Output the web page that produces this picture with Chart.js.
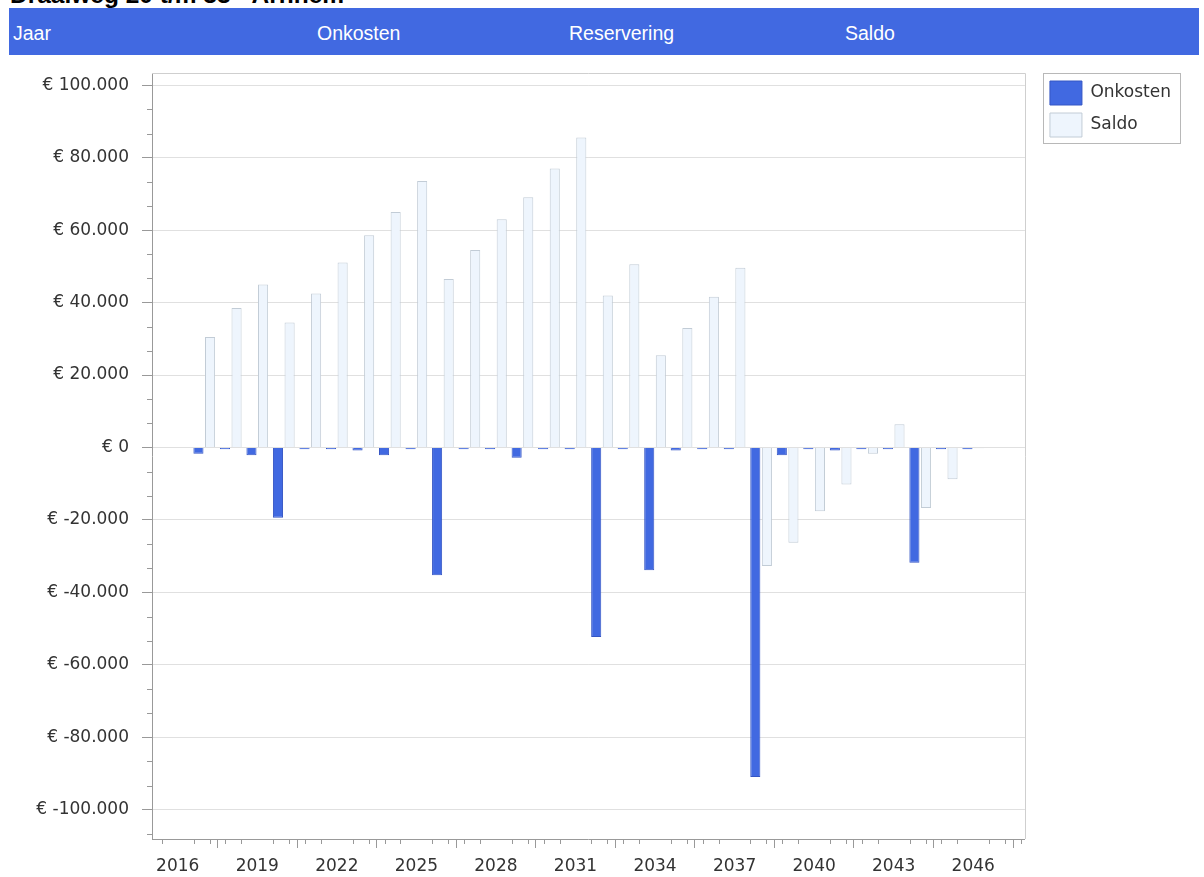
<!DOCTYPE html>
<html>
<head>
<meta charset="utf-8">
<script src="https://cdn.jsdelivr.net/npm/chart.js@4"></script>
<style>
html,body{margin:0;padding:0;background:#fff;width:1204px;height:877px;overflow:hidden;position:relative;font-family:"Liberation Sans",Arial,sans-serif;}
#title{position:absolute;left:10px;top:-17px;font-weight:bold;font-size:24.5px;line-height:24px;color:#000;white-space:nowrap;}
#hdr{position:absolute;left:9px;top:8px;width:1190px;height:47px;background:#4169E1;}
#hdr span{position:absolute;top:2px;line-height:47px;color:#fff;font-size:19.5px;white-space:nowrap;}
#wrap{position:absolute;left:0;top:56px;width:1204px;height:821px;}
</style>
</head>
<body>
<div id="title">Draaiweg 20 t/m 33 - Arnhem</div>
<div id="hdr">
  <span style="left:4px">Jaar</span>
  <span style="left:308px">Onkosten</span>
  <span style="left:560px">Reservering</span>
  <span style="left:836px">Saldo</span>
</div>
<div id="wrap"><canvas id="c" width="1204" height="821"></canvas></div>
<script>
const years = [2017,2018,2019,2020,2021,2022,2023,2024,2025,2026,2027,2028,2029,2030,2031,2032,2033,2034,2035,2036,2037,2038,2039,2040,2041,2042,2043,2044,2045,2046];
const onkosten = [-1700,-500,-2150,-19400,-500,-500,-800,-2150,-500,-35300,-500,-500,-2800,-500,-500,-52300,-500,-33900,-800,-500,-500,-91000,-2150,-500,-800,-500,-500,-31800,-500,-500];
const saldo = [30500,38500,45000,34500,42500,51100,58600,65000,73600,46500,54500,63000,69100,77000,85600,42000,50600,25500,33000,41600,49600,-32700,-26300,-17600,-10200,-1700,6400,-16700,-8800,-200];
const xTickLabels = [2016,2019,2022,2025,2028,2031,2034,2037,2040,2043,2046];
const yTickValues = [-100000,-80000,-60000,-40000,-20000,0,20000,40000,60000,80000,100000];
const seriesNames = ['Onkosten','Saldo'];

const fmtEuro = v => '€ ' + (v < 0 ? '-' : '') + String(Math.abs(Math.round(v))).replace(/\B(?=(\d{3})+(?!\d))/g, '.');
const tickFont = {family:'"DejaVu Sans", Verdana, sans-serif', size:17};
const noPad = s => { s.paddingTop = 0; s.paddingBottom = 0; s.paddingLeft = 0; s.paddingRight = 0; };

const decor = {
  id:'decor',
  beforeDatasetsDraw(chart){
    const {ctx, chartArea:a} = chart;
    ctx.save();
    ctx.strokeStyle = '#cfcfcf';
    ctx.lineWidth = 1;
    ctx.beginPath();
    ctx.moveTo(a.left, Math.round(a.top) + 0.5);
    ctx.lineTo(Math.round(a.right) + 0.5, Math.round(a.top) + 0.5);
    ctx.lineTo(Math.round(a.right) + 0.5, a.bottom);
    ctx.stroke();
    ctx.restore();
  },
  afterDraw(chart){
    const {ctx, chartArea:a, scales:{x, y}} = chart;
    ctx.save();
    ctx.strokeStyle = '#999';
    ctx.lineWidth = 1;
    ctx.beginPath();
    for (let k = 0; ; k++) {
      const v = 2015.4 + 0.6 * k;
      if (v > x.max) break;
      const r = (v - 2016) / 3;
      if (Math.abs(r - Math.round(r)) < 1e-6) continue;
      const px = Math.round(x.getPixelForValue(v)) + 0.5;
      ctx.moveTo(px, a.bottom);
      ctx.lineTo(px, a.bottom + 5);
    }
    for (let k = 0; ; k++) {
      const v = -320000 / 3 + (20000 / 3) * k;
      if (v > y.max) break;
      const r = v / 20000;
      if (Math.abs(r - Math.round(r)) < 1e-6) continue;
      const py = Math.round(y.getPixelForValue(v)) + 0.5;
      ctx.moveTo(a.left - 5, py);
      ctx.lineTo(a.left, py);
    }
    ctx.stroke();
    const L = chart.legend;
    ctx.strokeStyle = '#b8b8b8';
    const x0 = Math.round(L.left) + 1.5, x1 = Math.round(L.right) - 0.5;
    const y0 = Math.round(L.top) + 0.5;
    ctx.strokeRect(x0, y0, x1 - x0, 70);
    ctx.restore();
  }
};

new Chart(document.getElementById('c'), {
  type: 'bar',
  data: {
    datasets: [
      {label: seriesNames[0], data: years.map((yr, i) => ({x: yr, y: onkosten[i]})),
       backgroundColor: '#4169E1', borderColor: '#3556c4', borderWidth: 1,
       categoryPercentage: 0.875, barPercentage: 0.87},
      {label: seriesNames[1], data: years.map((yr, i) => ({x: yr, y: saldo[i]})),
       backgroundColor: '#eef5fd', borderColor: '#c2ccd6', borderWidth: 1,
       categoryPercentage: 0.875, barPercentage: 0.87}
    ]
  },
  options: {
    responsive: false,
    animation: false,
    layout: {padding: {top: 17, left: 0, right: 23, bottom: 0}},
    plugins: {
      legend: {
        position: 'right', align: 'start',
        labels: {boxWidth: 32, boxHeight: 24, padding: 8, color: '#333', font: tickFont}
      },
      tooltip: {enabled: false},
      title: {display: false}
    },
    scales: {
      x: {
        type: 'linear', position: 'bottom', min: 2015.03, max: 2047.95, offset: false,
        afterBuildTicks: s => { s.ticks = xTickLabels.map(v => ({value: v})); },
        afterFit: s => { s.height = 38; noPad(s); },
        grid: {drawOnChartArea: false, drawTicks: true, tickLength: 9, tickColor: '#999'},
        border: {color: '#999'},
        ticks: {padding: 8, color: '#333', font: tickFont, autoSkip: false, maxRotation: 0, callback: v => String(v)}
      },
      y: {
        type: 'linear', position: 'left', min: -108100, max: 103400,
        afterBuildTicks: s => { s.ticks = yTickValues.map(v => ({value: v})); },
        afterFit: s => { s.width = 152; noPad(s); },
        grid: {color: '#e0e0e0', tickColor: '#999', tickLength: 10},
        border: {color: '#999'},
        ticks: {padding: 13, color: '#333', font: tickFont, callback: v => fmtEuro(v)}
      },
      y2: {
        type: 'linear', axis: 'y', position: 'right', display: true,
        afterFit: s => { s.width = 17; noPad(s); },
        grid: {display: false}, border: {display: false}, ticks: {display: false}
      }
    }
  },
  plugins: [decor]
});
</script>
</body>
</html>
